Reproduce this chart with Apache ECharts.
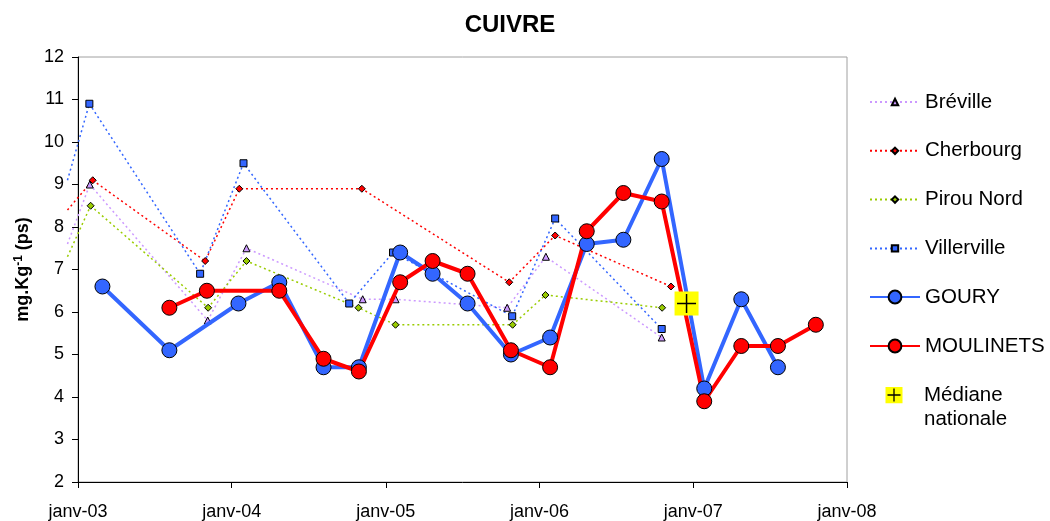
<!DOCTYPE html>
<html><head><meta charset="utf-8">
<script src="https://cdn.jsdelivr.net/npm/echarts@6/dist/echarts.min.js"></script>
<style>html,body{margin:0;padding:0;background:#fff}#c{width:1050px;height:521px}</style>
</head><body><div id="c"></div>
<script>
// ---- data (dates, values) ----
const xTickLabels = ['janv-03','janv-04','janv-05','janv-06','janv-07','janv-08'];
const yTicks = [2,3,4,5,6,7,8,9,10,11,12];

// lines entering the plot from an earlier (cut-off) sampling
const brevilleLead    = ['2002-12-07', 7.6];
const cherbourgLead   = ['2002-12-07', 8.4];
const pirouLead       = ['2002-12-07', 7.3];
const villervilleLead = ['2002-12-07', 9.1];

const breville = [
  ['2003-01-29', 9.0], ['2003-11-05', 5.8], ['2004-02-05', 7.5], ['2004-11-07', 6.3],
  ['2005-01-24', 6.3], ['2005-10-16', 6.1], ['2006-01-16', 7.3], ['2006-10-18', 5.4]
];
const cherbourg = [
  ['2003-02-05', 9.1], ['2003-10-30', 7.2], ['2004-01-19', 8.9], ['2004-11-05', 8.9],
  ['2005-10-21', 6.7], ['2006-02-07', 7.8], ['2006-11-09', 6.6]
];
const pirouNord = [
  ['2003-01-31', 8.5], ['2003-11-06', 6.1], ['2004-02-05', 7.2], ['2004-10-28', 6.1],
  ['2005-01-24', 5.7], ['2005-10-29', 5.7], ['2006-01-15', 6.4], ['2006-10-19', 6.1]
];
const villerville = [
  ['2003-01-28', 10.9], ['2003-10-18', 6.9], ['2004-01-29', 9.5], ['2004-10-06', 6.2],
  ['2005-01-18', 7.4], ['2005-10-28', 5.9], ['2006-02-07', 8.2], ['2006-10-18', 5.6]
];
const goury = [
  ['2003-02-28', 6.6], ['2003-08-06', 5.1], ['2004-01-17', 6.2], ['2004-04-23', 6.7],
  ['2004-08-06', 4.7], ['2004-10-29', 4.7], ['2005-02-04', 7.4], ['2005-04-22', 6.9],
  ['2005-07-14', 6.2], ['2005-10-25', 5.0], ['2006-01-26', 5.4], ['2006-04-23', 7.6],
  ['2006-07-19', 7.7], ['2006-10-18', 9.6], ['2007-01-27', 4.2], ['2007-04-25', 6.3],
  ['2007-07-21', 4.7]
];
const moulinets = [
  ['2003-08-06', 6.1], ['2003-11-03', 6.5], ['2004-04-23', 6.5], ['2004-08-06', 4.9],
  ['2004-10-29', 4.6], ['2005-02-04', 6.7], ['2005-04-22', 7.2], ['2005-07-14', 6.9],
  ['2005-10-25', 5.1], ['2006-01-26', 4.7], ['2006-04-23', 7.9], ['2006-07-19', 8.8],
  ['2006-10-18', 8.6], ['2007-01-27', 3.9], ['2007-04-25', 5.2], ['2007-07-21', 5.2],
  ['2007-10-19', 5.7]
];
const mediane = [['2006-12-16', 6.2]];

const seriesNames = ['Bréville','Cherbourg','Pirou Nord','Villerville','GOURY','MOULINETS','Médiane\nnationale'];

// ---- build ----
const FONT = '"Liberation Sans", Arial, sans-serif';
const DOT = [2, 3];
function dotted(name, color, symbol, pts){
  return {
    type: 'line', name, data: pts,
    symbol, symbolSize: 7, showAllSymbol: true,
    lineStyle: {color, width: 1.5, type: DOT},
    itemStyle: {color, borderColor: '#000', borderWidth: 1},
    z: 2
  };
}
// segment from the cut-off earlier sample to the first plotted sample (drawn unclipped)
function leadSeg(color, lead, pts){
  return {
    type: 'custom', name: 'lead', data: [[lead[0], lead[1], pts[0][0], pts[0][1]]],
    encode: {x: [0, 2], y: [1, 3]}, clip: false, silent: true, z: 1,
    renderItem: (params, api) => {
      const a = api.coord([api.value(0), api.value(1)]);
      const b = api.coord([api.value(2), api.value(3)]);
      return {type: 'line', shape: {x1: a[0], y1: a[1], x2: b[0], y2: b[1]},
        style: {stroke: color, lineWidth: 1.5, lineDash: DOT}};
    }
  };
}
function solid(name, color, pts){
  return {
    type: 'line', name, data: pts,
    symbol: 'circle', symbolSize: 15, showAllSymbol: true,
    lineStyle: {color, width: 4},
    itemStyle: {color, borderColor: '#000', borderWidth: 1},
    z: 3
  };
}
const medianeIcon = 'image://data:image/svg+xml;charset=utf-8,' + encodeURIComponent(
  '<svg xmlns="http://www.w3.org/2000/svg" width="50" height="17" viewBox="0 0 50 17">' +
  '<rect x="16.5" y="0" width="17" height="17" fill="#FFFF00"/>' +
  '<line x1="18.5" y1="8.5" x2="31.5" y2="8.5" stroke="#000" stroke-width="1.3"/>' +
  '<line x1="25" y1="2" x2="25" y2="15" stroke="#000" stroke-width="1.3"/></svg>');

const legendText = {fontFamily: FONT, fontSize: 20.5, color: '#000'};

const chart = echarts.init(document.getElementById('c'), null, {renderer: 'canvas'});
chart.setOption({
  animation: false,
  backgroundColor: '#fff',
  textStyle: {fontFamily: FONT},
  title: {
    text: 'CUIVRE', left: 505, top: 8, textAlign: 'center',
    textStyle: {fontFamily: FONT, fontSize: 24, fontWeight: 'bold', color: '#000'}
  },
  grid: {left: 78, right: 203, top: 57, bottom: 39, show: true, borderColor: '#a0a0a0', borderWidth: 1, backgroundColor: 'transparent'},
  legend: [
    {
      data: seriesNames.slice(0, 4), orient: 'vertical', left: 869, top: 91.5, padding: 0,
      itemWidth: 50, itemHeight: 8, itemGap: 27.8, textStyle: legendText
    },
    {
      data: seriesNames.slice(4, 6), orient: 'vertical', left: 869, top: 286.5, padding: 0,
      itemWidth: 50, itemHeight: 16, itemGap: 28, textStyle: legendText
    },
    {
      data: [{name: seriesNames[6], icon: medianeIcon}], orient: 'vertical', left: 869, top: 359, padding: 0,
      itemWidth: 50, itemHeight: 17,
      formatter: n => '\n' + n,
      textStyle: Object.assign({lineHeight: 24}, legendText)
    }
  ],
  xAxis: {
    type: 'time', min: '2003-01-01', max: '2008-01-01', splitNumber: 5,
    minInterval: 365 * 24 * 3600 * 1000, maxInterval: 366 * 24 * 3600 * 1000,
    axisLine: {show: true, lineStyle: {color: '#000', width: 1}},
    axisTick: {show: true, inside: false, length: 6, lineStyle: {color: '#000'}},
    splitLine: {show: false},
    axisLabel: {
      fontFamily: FONT, fontSize: 18, color: '#000', margin: 21, showMinLabel: true, showMaxLabel: true,
      formatter: v => xTickLabels[new Date(v).getFullYear() - 2003] || ''
    }
  },
  yAxis: {
    type: 'value', min: yTicks[0], max: yTicks[yTicks.length - 1], interval: 1,
    axisLine: {show: true, lineStyle: {color: '#000', width: 1}},
    axisTick: {show: true, inside: false, length: 6, lineStyle: {color: '#000'}},
    splitLine: {show: false},
    axisLabel: {fontFamily: FONT, fontSize: 18, color: '#000', margin: 14},
    name: '{b|mg.Kg}{s|-1}{b| (ps)}', nameLocation: 'middle', nameRotate: 90, nameGap: 44,
    nameTextStyle: {
      rich: {
        b: {fontFamily: FONT, fontSize: 18, fontWeight: 'bold', color: '#000', lineHeight: 21},
        s: {fontFamily: FONT, fontSize: 12, fontWeight: 'bold', color: '#000', verticalAlign: 'top', lineHeight: 21}
      }
    }
  },
  series: [
    leadSeg('#CC99FF', brevilleLead, breville),
    leadSeg('#FF0000', cherbourgLead, cherbourg),
    leadSeg('#99CC00', pirouLead, pirouNord),
    leadSeg('#3366FF', villervilleLead, villerville),
    dotted(seriesNames[0], '#CC99FF', 'triangle', breville),
    dotted(seriesNames[1], '#FF0000', 'diamond', cherbourg),
    dotted(seriesNames[2], '#99CC00', 'diamond', pirouNord),
    dotted(seriesNames[3], '#3366FF', 'rect', villerville),
    solid(seriesNames[4], '#3366FF', goury),
    solid(seriesNames[5], '#FF0000', moulinets),
    {
      type: 'custom', name: seriesNames[6], data: mediane, z: 4,
      encode: {x: 0, y: 1},
      renderItem: (params, api) => {
        const p = api.coord([api.value(0), api.value(1)]);
        const s = 24, c = 19;
        return {type: 'group', children: [
          {type: 'rect', shape: {x: p[0] - s / 2, y: p[1] - s / 2, width: s, height: s}, style: {fill: '#FFFF00'}},
          {type: 'line', shape: {x1: p[0] - c / 2, y1: p[1], x2: p[0] + c / 2, y2: p[1]}, style: {stroke: '#000', lineWidth: 1.5}},
          {type: 'line', shape: {x1: p[0], y1: p[1] - c / 2, x2: p[0], y2: p[1] + c / 2}, style: {stroke: '#000', lineWidth: 1.5}}
        ]};
      }
    }
  ]
});
</script></body></html>
